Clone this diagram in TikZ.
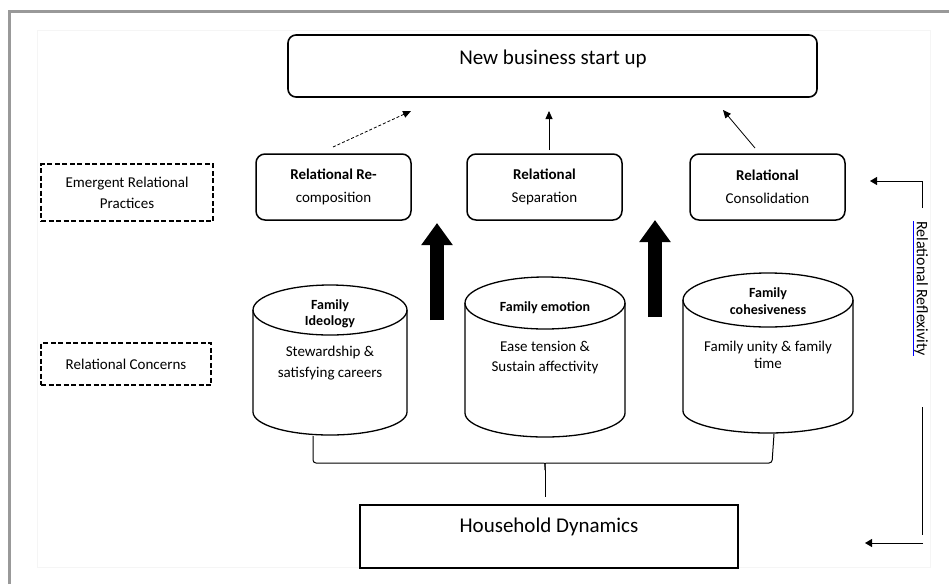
\documentclass[tikz,border=0pt]{standalone}
\usepackage{fontspec}
\setmainfont{Carlito}
\usetikzlibrary{arrows.meta}

\begin{document}
\begin{tikzpicture}[x=1pt,y=1pt,yscale=-1,
  every node/.style={inner sep=0.75pt, align=center, font=\fontsize{15}{21}\selectfont},
  roundbox/.style={draw, line width=1.5pt, rounded corners=9pt, minimum width=155pt, minimum height=66pt, font=\fontsize{15}{23}\selectfont},
  dashbox/.style={draw, line width=1.5pt, dash pattern=on 5pt off 2.5pt},
  can/.style={line width=1.3pt},
  canhead/.style={font=\fontsize{14}{16}\selectfont\bfseries},
  bigtext/.style={font=\fontsize{21}{24}\selectfont},
  thinarrow/.style={-{Triangle[length=8pt,width=7pt]}, line width=0.8pt},
  thickarrow/.style={-{Triangle[length=22pt,width=30pt]}, line width=14pt},
  fbarrow/.style={-{Triangle[length=7pt,width=8pt]}, line width=0.9pt}]
\useasboundingbox (0,0) rectangle (949,584);

%Frame
\draw[line width=3pt, black!40] (9,584) -- (9,11) -- (949,11);
\draw[black!4] (37,30) rectangle (930,567);

%Shape: Rounded Rectangle
\node[draw, line width=1.6pt, rounded corners=8pt, minimum width=529pt, minimum height=62pt] (startup) at (552.5,66) {};
% Text Node
\node[bigtext] (startuptext) at (553,59) {New business start up};

%Shape: Dashed Rectangles
\node[dashbox, minimum width=172pt, minimum height=57pt] (practices) at (127,192.5) {Emergent Relational\\Practices};
\node[dashbox, minimum width=170pt, minimum height=42pt] (concerns) at (126,364) {Relational Concerns};

%Shape: Rounded Rectangles
\node[roundbox] (recomp) at (333.5,187) {\textbf{Relational Re-}\\composition};
\node[roundbox] (separation) at (544.5,187) {\textbf{Relational}\\Separation};
\node[roundbox] (consolidation) at (767.5,187) {\textbf{Relational}\\Consolidation};

%Shape: Can
\draw[can] (330,310) ellipse [x radius=77, y radius=25];
\draw[can] (253,310) -- (253,412) arc [start angle=180, end angle=0, x radius=77, y radius=23] -- (407,310);
\coordinate (ideology) at (313,436);
%Shape: Can
\draw[can] (545,303) ellipse [x radius=80, y radius=26];
\draw[can] (465,303) -- (465,413) arc [start angle=180, end angle=0, x radius=80, y radius=24] -- (625,303);
%Shape: Can
\draw[can] (768,300) ellipse [x radius=85, y radius=27];
\draw[can] (683,300) -- (683,411) arc [start angle=180, end angle=0, x radius=85, y radius=22] -- (853,300);
\coordinate (cohesion) at (774,434);
% Text Node
\node[canhead] (ideologyhead) at (330,314) {Family\\Ideology};
\node (ideologytext) at (330,363) {Stewardship \&\\satisfying careers};
\node[canhead] (emotionhead) at (545,308) {Family emotion};
\node[font=\fontsize{15}{20}\selectfont] (emotiontext) at (545,357.5) {Ease tension \&\\Sustain affectivity};
\node[canhead, font=\fontsize{14}{17}\selectfont\bfseries] (cohesionhead) at (768,301.5) {Family\\cohesiveness};
\node[font=\fontsize{15}{17}\selectfont] (cohesiontext) at (768,354.5) {Family unity \& family\\time};

%Shape: Rectangle
\node[draw, line width=1.8pt, minimum width=378pt, minimum height=63pt] (household) at (549,536.5) {};
% Text Node
\node[bigtext] (householdtext) at (549,527) {Household Dynamics};

%Straight Lines
\coordinate (recompout) at (333,147);
\coordinate (startupin1) at (411,111);
\coordinate (separationout) at (549,150);
\coordinate (startupin2) at (549,111);
\coordinate (consolout) at (755,148);
\coordinate (startupin3) at (723,110);
\draw[thinarrow, dash pattern=on 3pt off 2pt] (recompout) -- (startupin1);
\draw[thinarrow] (separationout) -- (startupin2);
\draw[thinarrow] (consolout) -- (startupin3);

%Block arrows
\coordinate (leftfoot) at (437,320);
\coordinate (lefthead) at (437,223);
\coordinate (rightfoot) at (655,317);
\coordinate (righthead) at (655,220);
\draw[thickarrow] (leftfoot) -- (lefthead);
\draw[thickarrow] (rightfoot) -- (righthead);

%Brace
\coordinate (bracetip) at (545,470);
\coordinate (bracefoot) at (545,497);
\draw[line width=1pt, rounded corners=3pt] (ideology) |- (541,463) .. controls (545,463) .. (bracetip);
\draw[line width=1pt, rounded corners=3pt] (cohesion) -- (772,463) -- (549,463) .. controls (545,463) .. (bracetip);
\draw[line width=1pt] (bracetip) -- (bracefoot);

%Feedback
\coordinate (loopbend) at (922,208);
\coordinate (consolin) at (870,181);
\coordinate (looptop) at (922,407);
\coordinate (loopbottom) at (922,535);
\coordinate (loopend) at (923,543);
\coordinate (householdin) at (865,543);
\draw[fbarrow] (loopbend) |- (consolin);
\draw[line width=0.9pt] (looptop) -- (loopbottom);
\draw[fbarrow] (loopend) -- (householdin);
% Text Node
\node[rotate=-90, font=\fontsize{16}{18}\selectfont] (reflexivity) at (920,288.5) {\textcolor{blue}{\underline{\textcolor{black}{Relational Reflexivity}}}};
\end{tikzpicture}
\end{document}
